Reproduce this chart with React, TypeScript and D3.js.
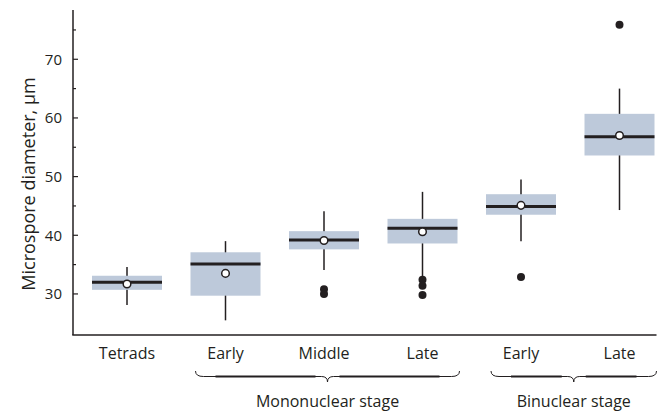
import React from "react";
import * as d3 from "d3";

const categoryIds = ["tet", "mEarly", "mMiddle", "mLate", "bEarly", "bLate"];
const categoryLabels = ["Tetrads", "Early", "Middle", "Late", "Early", "Late"];
const whiskerLow = [28.1, 25.5, 34.1, 32.9, 39.0, 44.3];
const q1 = [30.7, 29.7, 37.6, 38.6, 43.5, 53.6];
const medians = [32.0, 35.1, 39.2, 41.2, 44.9, 56.8];
const q3 = [33.1, 37.1, 40.7, 42.8, 47.0, 60.7];
const whiskerHigh = [34.6, 39.0, 44.1, 47.4, 49.5, 65.0];
const means = [31.7, 33.5, 39.1, 40.6, 45.1, 57.0];
const outliers = [[], [], [30.8, 30.0], [32.4, 31.4, 29.8], [32.9], [75.9]];
const majorTicks = [30, 40, 50, 60, 70];
const minorTicks = [35, 45, 55, 65, 75];
const groups = [
  { label: "Mononuclear stage", from: "mEarly", to: "mLate" },
  { label: "Binuclear stage", from: "bEarly", to: "bLate" },
];
const yLabel = "Microspore diameter, \u00b5m";

const W = 660;
const H = 412;
const axisX = 73;
const axisRight = 656.5;
const axisTop = 10;
const axisBottom = 335;
const boxW = 70;
const font = "'Open Sans', 'Noto Sans', sans-serif";
const ink = "#231f20";
const boxFill = "#bdc9da";

export default function App() {
  const x = d3.scalePoint<string>().domain(categoryIds).range([127, 619.5]);
  const y = d3.scaleLinear().domain([23, 78.4]).range([axisBottom, axisTop]);

  const brace = (x0: number, x1: number) => {
    const y0 = 371;
    const ym = 376.5;
    const yt = 382;
    const xm = (x0 + x1) / 2;
    return `M${x0},${y0} Q${x0},${ym} ${x0 + 8},${ym} L${xm - 6},${ym} Q${xm},${ym} ${xm},${yt} Q${xm},${ym} ${xm + 6},${ym} L${x1 - 8},${ym} Q${x1},${ym} ${x1},${y0}`;
  };
  const braceThick = (x0: number, x1: number) => {
    const ym = 376.5;
    const xm = (x0 + x1) / 2;
    return `M${x0 + 20},${ym} L${xm - 12},${ym} M${xm + 12},${ym} L${x1 - 20},${ym}`;
  };

  return (
    <svg
      width={W}
      height={H}
      style={{ position: "absolute", left: 0, top: 0, background: "#fff" }}
      fontFamily={font}
    >
      {/* axes */}
      <line x1={axisX} x2={axisX} y1={axisTop} y2={axisBottom} stroke={ink} strokeWidth={1.5} />
      <line x1={axisX - 0.75} x2={axisRight} y1={axisBottom} y2={axisBottom} stroke={ink} strokeWidth={1.5} />
      {majorTicks.map((t) => (
        <g key={"M" + t}>
          <line x1={axisX} x2={axisX + 5} y1={y(t)} y2={y(t)} stroke={ink} strokeWidth={1.2} />
          <text x={62} y={y(t)} dy="0.35em" textAnchor="end" fontSize={15} fill={ink}>
            {t}
          </text>
        </g>
      ))}
      {minorTicks.map((t) => (
        <line key={"m" + t} x1={axisX} x2={axisX + 3} y1={y(t)} y2={y(t)} stroke={ink} strokeWidth={1.2} />
      ))}
      <text
        transform={`translate(29,184) rotate(-90)`}
        textAnchor="middle"
        dy="0.35em"
        fontSize={18}
        fill={ink}
      >
        {yLabel}
      </text>

      {/* boxes */}
      {categoryIds.map((c, i) => {
        const cx = x(c)!;
        return (
          <g key={c}>
            <line x1={cx} x2={cx} y1={y(whiskerLow[i])} y2={y(whiskerHigh[i])} stroke={ink} strokeWidth={1.5} />
            <rect x={cx - boxW / 2} width={boxW} y={y(q3[i])} height={y(q1[i]) - y(q3[i])} fill={boxFill} />
            <line x1={cx - boxW / 2} x2={cx + boxW / 2} y1={y(medians[i])} y2={y(medians[i])} stroke={ink} strokeWidth={3} />
            {outliers[i].map((o, k) => (
              <circle key={k} cx={cx} cy={y(o)} r={4} fill={ink} />
            ))}
            <circle cx={cx} cy={y(means[i])} r={3.8} fill="#fff" stroke={ink} strokeWidth={1.5} />
            <text x={cx} y={358.5} textAnchor="middle" fontSize={16} fill={ink}>
              {categoryLabels[i]}
            </text>
          </g>
        );
      })}

      {/* group braces */}
      {groups.map((g) => {
        const x0 = x(g.from)! - 30;
        const x1 = x(g.to)! + 37;
        return (
          <g key={g.label}>
            <path d={brace(x0, x1)} fill="none" stroke={ink} strokeWidth={1} />
            <path d={braceThick(x0, x1)} fill="none" stroke={ink} strokeWidth={2} />
            <text x={(x0 + x1) / 2} y={406.5} textAnchor="middle" fontSize={16} fill={ink}>
              {g.label}
            </text>
          </g>
        );
      })}
    </svg>
  );
}
